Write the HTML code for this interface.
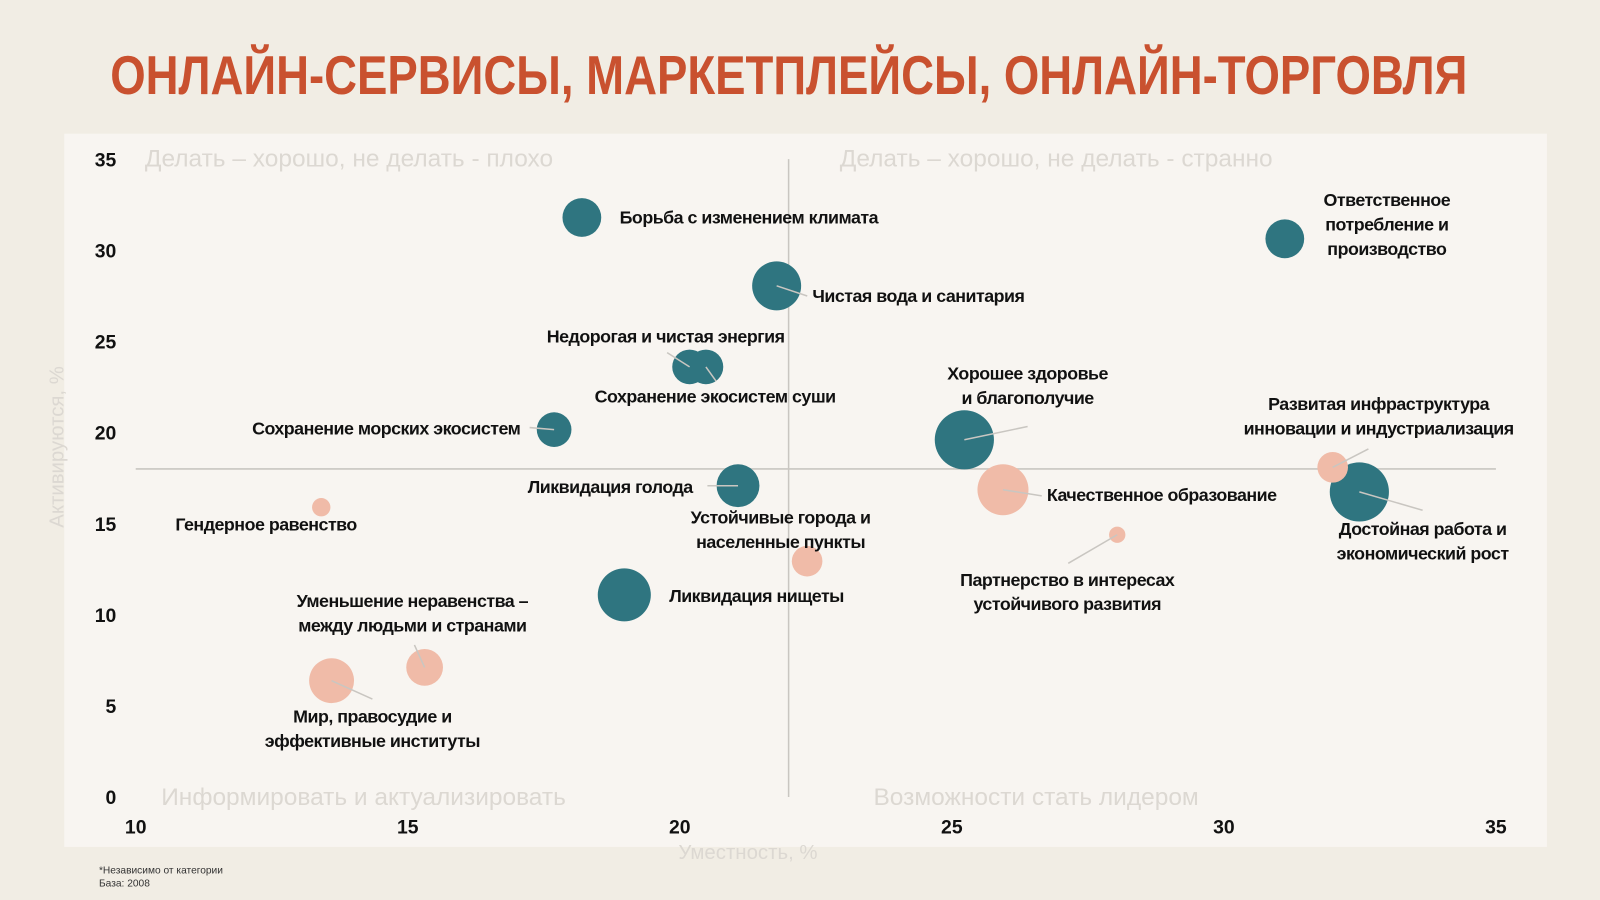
<!DOCTYPE html>
<html><head><meta charset="utf-8"><style>
html,body{margin:0;padding:0;background:#f1ede4;}
svg{display:block;font-family:"Liberation Sans",sans-serif;}
.lbl{font-family:"Liberation Sans",sans-serif;font-weight:bold;font-size:17.5px;fill:#111;letter-spacing:-0.5px}
.tick{font-weight:bold;font-size:19px;fill:#111}
.quad{font-size:24px;fill:#dcd8d2}
</style></head><body>
<svg id="chart" width="1600" height="900" viewBox="0 0 1568 882" xmlns="http://www.w3.org/2000/svg">
<rect x="0" y="0" width="1568" height="882" fill="#f1ede4"/>
<text x="773" y="92" text-anchor="middle" font-size="54" font-weight="bold" fill="#c9512f" textLength="1330" lengthAdjust="spacingAndGlyphs">ОНЛАЙН-СЕРВИСЫ, МАРКЕТПЛЕЙСЫ, ОНЛАЙН-ТОРГОВЛЯ</text>
<rect x="63" y="131" width="1453" height="699" fill="#f8f5f1"/>
<g id="grid"></g>
<text class="quad" x="142" y="163">Делать – хорошо, не делать - плохо</text>
<text class="quad" x="823" y="163">Делать – хорошо, не делать - странно</text>
<text class="quad" x="158" y="789">Информировать и актуализировать</text>
<text class="quad" x="856" y="789">Возможности стать лидером</text>
<text x="733" y="842" text-anchor="middle" font-size="20" fill="#dcd8d2">Уместность, %</text>
<text x="62" y="438" text-anchor="middle" font-size="20" fill="#dcd8d2" transform="rotate(-90 62 438)">Активируются, %</text>
<text x="97" y="856" font-size="10" fill="#333">*Независимо от категории</text>
<text x="97" y="869" font-size="10" fill="#333">База: 2008</text>
<g id="ticks"></g>
<g id="bubbles"></g>
<g id="leaders"></g>
<g id="labels"></g>
</svg>
<script>
const names=["Борьба с изменением климата","Чистая вода и санитария","Недорогая и чистая энергия","Сохранение экосистем суши","Сохранение морских экосистем","Ликвидация голода","Ликвидация нищеты","Хорошее здоровье и благополучие","Ответственное потребление и производство","Достойная работа и экономический рост","Гендерное равенство","Уменьшение неравенства","Мир, правосудие и эффективные институты","Устойчивые города и населенные пункты","Качественное образование","Партнерство в интересах устойчивого развития","Развитая инфраструктура"];
const xVals=[18.2,21.78,20.18,20.48,17.69,21.07,18.98,25.23,31.12,32.49,13.41,15.31,13.6,22.34,25.94,28.04,32.0];
const yVals=[31.8,28.05,23.6,23.6,20.16,17.08,11.09,19.6,30.63,16.74,15.9,7.11,6.38,12.94,16.86,14.39,18.09];
const sizes=[19,24,17,17,17,21,26,29,19,29,9,18,22,15,25,8,15];
const groups=["a","a","a","a","a","a","a","a","a","a","b","b","b","b","b","b","b"];
const xTicks=[10,15,20,25,30,35];
const yTicks=[0,5,10,15,20,25,30,35];
const xDivide=22, yDivide=18;

const NS="http://www.w3.org/2000/svg";
const X0=133,X1=1466,Y0=781,Y1=156;
function sx(v){return X0+(v-10)/25*(X1-X0);}
function sy(v){return Y0-(v/35)*(Y0-Y1);}
function mk(tag,attrs,parent){const e=document.createElementNS(NS,tag);for(const k in attrs)e.setAttribute(k,attrs[k]);document.getElementById(parent).appendChild(e);return e;}

let l=mk("line",{x1:sx(xDivide),x2:sx(xDivide),y1:156,y2:781,stroke:"#c9c6c1","stroke-width":1.5},"grid");


l=mk("line",{x1:133,x2:1466,y1:sy(yDivide),y2:sy(yDivide),stroke:"#c9c6c1","stroke-width":1.5},"grid");



xTicks.forEach(t=>{const e=mk("text",{x:sx(t),y:817,"text-anchor":"middle",class:"tick"},"ticks");e.textContent=t;

});
yTicks.forEach(t=>{const e=mk("text",{x:114,y:sy(t)+7,"text-anchor":"end",class:"tick"},"ticks");e.textContent=t;

});

const layout=[
 [["Борьба с изменением климата"],37,6,"start",null],
 [["Чистая вода и санитария"],35,16,"start",[30,10]],
 [["Недорогая и чистая энергия"],-140,-24,"start",[-22,-14]],
 [["Сохранение экосистем суши"],-109,35,"start",[10,14]],
 [["Сохранение морских экосистем"],-296,5,"start",[-24,-2]],
 [["Ликвидация голода"],-206,7,"start",[-30,0]],
 [["Ликвидация нищеты"],44,7,"start",null],
 [["Хорошее здоровье","и благополучие"],62,-59,"middle",[62,-13]],
 [["Ответственное","потребление и","производство"],100,-32,"middle",null],
 [["Достойная работа и","экономический рост"],62,42,"middle",[62,18]],
 [["Гендерное равенство"],-143,23,"start",null],
 [["Уменьшение неравенства –","между людьми и странами"],-12,-59,"middle",[-10,-22]],
 [["Мир, правосудие и","эффективные институты"],40,41,"middle",[40,18]],
 [["Устойчивые города и","населенные пункты"],-26,-37,"middle",null],
 [["Качественное образование"],43,11,"start",[38,6]],
 [["Партнерство в интересах","устойчивого развития"],-49,50,"middle",[-48,28]],
 [["Развитая инфраструктура","инновации и индустриализация"],45,-56,"middle",[35,-18]]
];

names.forEach((n,i)=>{
 const cx=sx(xVals[i]),cy=sy(yVals[i]);
 const c=mk("circle",{cx:cx,cy:cy,r:sizes[i],fill:groups[i]==="a"?"#2f7580":"#f0bba8"},"bubbles");
 
 
 const L=layout[i];
 if(L[4]){const e=mk("line",{x1:cx,y1:cy,x2:cx+L[4][0],y2:cy+L[4][1],stroke:"#c9c6c1","stroke-width":1.5},"leaders");
  
  }
 const t=mk("text",{x:cx+L[1],y:cy+L[2],"text-anchor":L[3],class:"lbl"},"labels");
 
 
 L[0].forEach((s,k)=>{const ts=document.createElementNS(NS,"tspan");ts.setAttribute("x",cx+L[1]);ts.setAttribute("dy",k?24:0);ts.textContent=s;t.appendChild(ts);});
});
</script>
</body></html>
